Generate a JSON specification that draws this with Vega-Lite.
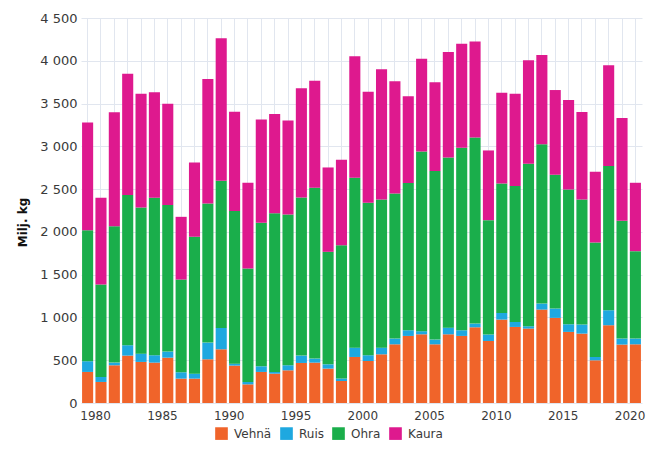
{
  "$schema": "https://vega.github.io/schema/vega-lite/v6.json",
  "width": 561,
  "height": 385,
  "autosize": {"type": "none"},
  "padding": {"left": 81, "top": 18, "right": 4, "bottom": 47},
  "background": "white",
  "config": {
    "view": {"stroke": null},
    "font": "DejaVu Sans"
  },
  "data": {
    "values": [
      {"year": 1980, "Vehnä": 363, "Ruis": 125, "Ohra": 1532, "Kaura": 1260},
      {"year": 1981, "Vehnä": 246, "Ruis": 58, "Ohra": 1081, "Kaura": 1014},
      {"year": 1982, "Vehnä": 441, "Ruis": 31, "Ohra": 1595, "Kaura": 1330},
      {"year": 1983, "Vehnä": 554, "Ruis": 121, "Ohra": 1755, "Kaura": 1419},
      {"year": 1984, "Vehnä": 480, "Ruis": 97, "Ohra": 1708, "Kaura": 1330},
      {"year": 1985, "Vehnä": 472, "Ruis": 86, "Ohra": 1841, "Kaura": 1232},
      {"year": 1986, "Vehnä": 530, "Ruis": 71, "Ohra": 1712, "Kaura": 1185},
      {"year": 1987, "Vehnä": 285, "Ruis": 74, "Ohra": 1084, "Kaura": 733},
      {"year": 1988, "Vehnä": 285, "Ruis": 58, "Ohra": 1599, "Kaura": 870},
      {"year": 1989, "Vehnä": 511, "Ruis": 195, "Ohra": 1626, "Kaura": 1455},
      {"year": 1990, "Vehnä": 628, "Ruis": 250, "Ohra": 1719, "Kaura": 1666},
      {"year": 1991, "Vehnä": 437, "Ruis": 23, "Ohra": 1783, "Kaura": 1162},
      {"year": 1992, "Vehnä": 218, "Ruis": 28, "Ohra": 1326, "Kaura": 1002},
      {"year": 1993, "Vehnä": 363, "Ruis": 66, "Ohra": 1677, "Kaura": 1209},
      {"year": 1994, "Vehnä": 343, "Ruis": 20, "Ohra": 1856, "Kaura": 1158},
      {"year": 1995, "Vehnä": 382, "Ruis": 59, "Ohra": 1763, "Kaura": 1099},
      {"year": 1996, "Vehnä": 468, "Ruis": 86, "Ohra": 1848, "Kaura": 1276},
      {"year": 1997, "Vehnä": 472, "Ruis": 47, "Ohra": 1997, "Kaura": 1251},
      {"year": 1998, "Vehnä": 402, "Ruis": 50, "Ohra": 1315, "Kaura": 986},
      {"year": 1999, "Vehnä": 257, "Ruis": 28, "Ohra": 1560, "Kaura": 998},
      {"year": 2000, "Vehnä": 538, "Ruis": 109, "Ohra": 1986, "Kaura": 1419},
      {"year": 2001, "Vehnä": 491, "Ruis": 67, "Ohra": 1782, "Kaura": 1299},
      {"year": 2002, "Vehnä": 569, "Ruis": 78, "Ohra": 1732, "Kaura": 1521},
      {"year": 2003, "Vehnä": 686, "Ruis": 67, "Ohra": 1696, "Kaura": 1311},
      {"year": 2004, "Vehnä": 784, "Ruis": 66, "Ohra": 1720, "Kaura": 1014},
      {"year": 2005, "Vehnä": 803, "Ruis": 36, "Ohra": 2102, "Kaura": 1084},
      {"year": 2006, "Vehnä": 686, "Ruis": 55, "Ohra": 1970, "Kaura": 1037},
      {"year": 2007, "Vehnä": 803, "Ruis": 78, "Ohra": 1989, "Kaura": 1233},
      {"year": 2008, "Vehnä": 784, "Ruis": 66, "Ohra": 2134, "Kaura": 1216},
      {"year": 2009, "Vehnä": 885, "Ruis": 43, "Ohra": 2176, "Kaura": 1120},
      {"year": 2010, "Vehnä": 725, "Ruis": 75, "Ohra": 1337, "Kaura": 815},
      {"year": 2011, "Vehnä": 975, "Ruis": 78, "Ohra": 1513, "Kaura": 1061},
      {"year": 2012, "Vehnä": 889, "Ruis": 59, "Ohra": 1587, "Kaura": 1080},
      {"year": 2013, "Vehnä": 870, "Ruis": 27, "Ohra": 1899, "Kaura": 1209},
      {"year": 2014, "Vehnä": 1092, "Ruis": 70, "Ohra": 1861, "Kaura": 1045},
      {"year": 2015, "Vehnä": 995, "Ruis": 109, "Ohra": 1564, "Kaura": 990},
      {"year": 2016, "Vehnä": 831, "Ruis": 89, "Ohra": 1576, "Kaura": 1045},
      {"year": 2017, "Vehnä": 811, "Ruis": 106, "Ohra": 1462, "Kaura": 1022},
      {"year": 2018, "Vehnä": 499, "Ruis": 39, "Ohra": 1338, "Kaura": 827},
      {"year": 2019, "Vehnä": 909, "Ruis": 175, "Ohra": 1685, "Kaura": 1178},
      {"year": 2020, "Vehnä": 683, "Ruis": 70, "Ohra": 1376, "Kaura": 1202},
      {"year": 2021, "Vehnä": 686, "Ruis": 67, "Ohra": 1022, "Kaura": 799}
    ]
  },
  "transform": [
    {"fold": ["Vehnä", "Ruis", "Ohra", "Kaura"], "as": ["laji", "arvo"]}
  ],
  "mark": {"type": "bar"},
  "encoding": {
    "x": {
      "field": "year",
      "type": "ordinal",
      "scale": {"paddingInner": 0.17, "paddingOuter": 0.08},
      "axis": {
        "title": null,
        "labelAngle": 0,
        "labelExpr": "datum.value % 5 == 0 ? datum.label : ''",
        "ticks": false,
        "domain": false,
        "grid": true,
        "gridColor": "#e1e6ef",
        "labelFont": "DejaVu Sans",
        "labelFontSize": 12,
        "labelColor": "#3a3a3a",
        "labelPadding": 7,
        "labelOffset": 8
      }
    },
    "y": {
      "field": "arvo",
      "type": "quantitative",
      "stack": "zero",
      "scale": {"domain": [0, 4500], "nice": false},
      "axis": {
        "title": "Milj. kg",
        "titleFont": "DejaVu Sans",
        "titleFontSize": 12,
        "titleFontWeight": "bold",
        "titleColor": "#111111",
        "titlePadding": 10,
        "titleY": 204,
        "values": [0, 500, 1000, 1500, 2000, 2500, 3000, 3500, 4000, 4500],
        "labelExpr": "replace(datum.label, ',', ' ')",
        "ticks": false,
        "domain": false,
        "grid": true,
        "gridColor": "#e1e6ef",
        "labelFont": "DejaVu Sans",
        "labelFontSize": 13,
        "labelColor": "#3a3a3a",
        "labelPadding": 4
      }
    },
    "color": {
      "field": "laji",
      "type": "nominal",
      "scale": {
        "domain": ["Vehnä", "Ruis", "Ohra", "Kaura"],
        "range": ["#f0642a", "#1ea8e0", "#1aae4b", "#de198e"]
      },
      "legend": {
        "title": null,
        "orient": "none",
        "direction": "horizontal",
        "legendX": 134,
        "legendY": 409,
        "symbolType": "square",
        "symbolSize": 160,
        "symbolStrokeWidth": 0,
        "labelFont": "DejaVu Sans",
        "labelFontSize": 12,
        "labelColor": "#3a3a3a",
        "labelOffset": 6,
        "columnPadding": 8
      }
    },
    "order": {"field": "laji", "sort": "descending"}
  }
}
